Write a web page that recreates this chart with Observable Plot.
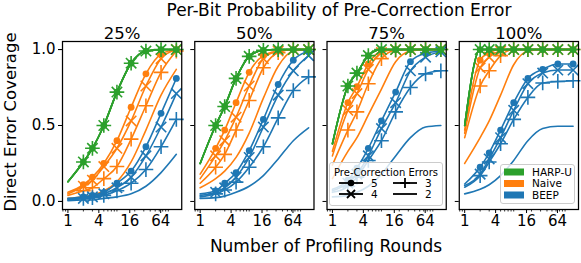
<!DOCTYPE html>
<html><head><meta charset="utf-8">
<script src="https://cdn.jsdelivr.net/npm/d3@7"></script>
<script src="https://cdn.jsdelivr.net/npm/@observablehq/plot@0.6"></script>
<style>
body{margin:0;background:#fff;}
#wrap{position:relative;width:581px;height:263px;font-family:"DejaVu Sans",sans-serif;color:#000;overflow:hidden;}
#wrap > svg{position:absolute;left:0;top:0;}
.lbl{position:absolute;white-space:nowrap;transform:translate(-50%,-50%);line-height:1;}
.leg{position:absolute;}
</style></head><body><div id="wrap"></div>
<script>
// ---- data ----
const rounds = [1, 2, 3, 5, 9, 17, 33, 65, 129];
const panels = ["25%", "50%", "75%", "100%"];
const mechanisms = ["HARP-U", "Naive", "BEEP"];
const errorCounts = [5, 4, 3, 2];
const colors = ["#2ca02c", "#ff7f0e", "#1f77b4"];
const xTicks = [1, 4, 16, 64];
const xMinorTicks = [0.8, 0.9, 2, 3, 5, 6, 7, 8, 9, 20, 30, 40, 50, 60, 70, 80, 90];
const yTicks = [0, 0.5, 1];

// HARP-U (identical for every error count)
const harp25  = [0.13, 0.26, 0.35, 0.50, 0.72, 0.91, 0.99, 1.0, 1.0];
const harp50  = [0.25, 0.50, 0.625, 0.81, 0.955, 0.995, 1.0, 1.0, 1.0];
const harp75  = [0.38, 0.76, 0.845, 0.96, 1.0, 1.0, 1.0, 1.0, 1.0];
const harp100 = [0.50, 1.0, 1.0, 1.0, 1.0, 1.0, 1.0, 1.0, 1.0];

// Naive: rows = 5, 4, 3, 2 pre-correction errors
const naive25 = [
  [0.06, 0.11, 0.16, 0.25, 0.40, 0.62, 0.84, 0.97, 1.0],
  [0.05, 0.10, 0.14, 0.23, 0.35, 0.53, 0.76, 0.94, 1.0],
  [0.04, 0.07, 0.09, 0.15, 0.23, 0.41, 0.63, 0.85, 0.99],
  [0.02, 0.03, 0.04, 0.07, 0.13, 0.26, 0.47, 0.70, 0.87]
];
const naive50 = [
  [0.18, 0.35, 0.47, 0.65, 0.85, 0.96, 0.99, 1.0, 1.0],
  [0.15, 0.30, 0.40, 0.555, 0.76, 0.94, 0.99, 1.0, 1.0],
  [0.12, 0.225, 0.31, 0.47, 0.665, 0.88, 0.98, 1.0, 1.0],
  [0.09, 0.15, 0.20, 0.29, 0.45, 0.68, 0.89, 0.99, 1.0]
];
const naive75 = [
  [0.33, 0.65, 0.755, 0.905, 0.99, 1.0, 1.0, 1.0, 1.0],
  [0.30, 0.60, 0.71, 0.87, 0.98, 1.0, 1.0, 1.0, 1.0],
  [0.24, 0.47, 0.59, 0.775, 0.94, 0.995, 1.0, 1.0, 1.0],
  [0.15, 0.33, 0.42, 0.57, 0.74, 0.92, 0.99, 1.0, 1.0]
];
const naive100 = [
  [0.47, 0.93, 0.98, 1.0, 1.0, 1.0, 1.0, 1.0, 1.0],
  [0.45, 0.88, 0.95, 0.99, 1.0, 1.0, 1.0, 1.0, 1.0],
  [0.42, 0.76, 0.86, 0.96, 1.0, 1.0, 1.0, 1.0, 1.0],
  [0.25, 0.42, 0.53, 0.70, 0.90, 0.99, 1.0, 1.0, 1.0]
];

// BEEP: rows = 5, 4, 3, 2 pre-correction errors
const beep25 = [
  [0.02, 0.03, 0.04, 0.06, 0.12, 0.20, 0.36, 0.58, 0.81],
  [0.015, 0.02, 0.03, 0.05, 0.09, 0.16, 0.30, 0.49, 0.71],
  [0.01, 0.02, 0.025, 0.04, 0.07, 0.12, 0.21, 0.36, 0.54],
  [0.005, 0.01, 0.01, 0.02, 0.03, 0.05, 0.10, 0.19, 0.31]
];
const beep50 = [
  [0.05, 0.07, 0.12, 0.19, 0.335, 0.54, 0.77, 0.93, 0.99],
  [0.04, 0.06, 0.09, 0.16, 0.29, 0.49, 0.70, 0.86, 0.96],
  [0.03, 0.05, 0.075, 0.127, 0.225, 0.36, 0.55, 0.73, 0.82],
  [0.02, 0.025, 0.035, 0.06, 0.10, 0.17, 0.28, 0.40, 0.485]
];
const beep75 = [
  [0.08, 0.14, 0.22, 0.35, 0.53, 0.72, 0.92, 0.975, 0.99],
  [0.07, 0.12, 0.18, 0.30, 0.48, 0.65, 0.86, 0.95, 0.985],
  [0.06, 0.10, 0.16, 0.27, 0.40, 0.59, 0.75, 0.84, 0.86],
  [0.03, 0.04, 0.06, 0.10, 0.18, 0.30, 0.42, 0.49, 0.50]
];
const beep100 = [
  [0.115, 0.225, 0.32, 0.47, 0.65, 0.81, 0.87, 0.905, 0.905],
  [0.105, 0.18, 0.28, 0.42, 0.60, 0.775, 0.845, 0.865, 0.865],
  [0.094, 0.17, 0.26, 0.38, 0.54, 0.685, 0.78, 0.79, 0.795],
  [0.05, 0.08, 0.11, 0.17, 0.27, 0.40, 0.48, 0.495, 0.495]
];

// ---- build table ----
const panelData = [
  [panels[0], harp25, naive25, beep25],
  [panels[1], harp50, naive50, beep50],
  [panels[2], harp75, naive75, beep75],
  [panels[3], harp100, naive100, beep100]
];
const rows = [];
for (const [p, h, nv, bp] of panelData) {
  errorCounts.forEach((n, i) => {
    const sets = [["HARP-U", h], ["Naive", nv[i]], ["BEEP", bp[i]]];
    for (const [mech, vals] of sets) {
      rounds.forEach((x, j) => rows.push({p, mech, n, x, y: vals[j], key: mech + n, mark: j > 0}));
    }
  });
}
const tickRows = panels.flatMap(p => xTicks.map(x => ({p, x})));

const order = ["Naive", "BEEP", "HARP-U"];
const seriesMarks = [];
for (const m of order) {
  const d = rows.filter(r => r.mech === m);
  const dm = d.filter(r => r.mark);
  seriesMarks.push(
    Plot.line(d, {x: "x", y: "y", z: "key", stroke: "mech", fx: "p", curve: "monotone-x", strokeWidth: 1.6}),
    Plot.dot(dm.filter(r => r.n === 5), {x: "x", y: "y", fx: "p", fill: "mech", symbol: "circle", r: 3.4}),
    Plot.dot(dm.filter(r => r.n === 4), {x: "x", y: "y", fx: "p", stroke: "mech", symbol: "times", r: 4.8, strokeWidth: 1.6}),
    Plot.dot(dm.filter(r => r.n === 3), {x: "x", y: "y", fx: "p", stroke: "mech", symbol: "plus", r: 4.8, strokeWidth: 1.6})
  );
}

const chart = Plot.plot({
  width: 581, height: 263,
  marginLeft: 62, marginRight: 3, marginTop: 41, marginBottom: 54,
  style: {fontFamily: "DejaVu Sans", background: "white", color: "black", overflow: "visible"},
  fx: {domain: panels, paddingInner: 0.0985, paddingOuter: 0, round: false, label: null},
  x: {type: "log", domain: [Math.pow(2, -0.35), Math.pow(2, 7.36)], label: null},
  y: {domain: [-0.053, 1.053], label: null},
  color: {domain: mechanisms, range: colors},
  marks: [
    Plot.axisFx({anchor: "top", tickSize: 0, tickPadding: 3, fontSize: 16.5, label: null}),
    Plot.axisX({ticks: xMinorTicks, tickSize: 2.5, tickFormat: () => "", label: null, strokeWidth: 0.8}),
    Plot.axisX({ticks: xTicks, tickSize: 4, tickFormat: () => "", label: null, strokeWidth: 1}),
    Plot.text(tickRows, {x: "x", fx: "p", text: d => String(d.x), frameAnchor: "bottom", lineAnchor: "top", dy: 6, fontSize: 15}),
    Plot.axisY({ticks: yTicks, tickSize: 4, tickPadding: 3, tickFormat: d3.format(".1f"), fontSize: 15, label: null, strokeWidth: 1}),
    Plot.axisY({ticks: yTicks, tickSize: 4, tickFormat: () => "", label: null, facetAnchor: null, strokeWidth: 1}),
    ...seriesMarks,
    Plot.frame({stroke: "black", strokeWidth: 1.25})
  ]
});

const wrap = document.getElementById("wrap");
wrap.appendChild(chart);

function addLabel(text, x, y, size, rotate) {
  const el = document.createElement("div");
  el.className = "lbl";
  el.textContent = text;
  el.style.left = x + "px";
  el.style.top = y + "px";
  el.style.fontSize = size + "px";
  if (rotate) el.style.transform = "translate(-50%,-50%) rotate(-90deg)";
  wrap.appendChild(el);
}
addLabel("Per-Bit Probability of Pre-Correction Error", 339, 10, 17);
addLabel("Number of Profiling Rounds", 326, 246, 17);
addLabel("Direct Error Coverage", 10.5, 122, 16.5, true);

// ---- legends ----
const NS = "http://www.w3.org/2000/svg";
function svgEl(tag, attrs, parent) {
  const e = document.createElementNS(NS, tag);
  for (const k in attrs) e.setAttribute(k, attrs[k]);
  if (parent) parent.appendChild(e);
  return e;
}
function legendBox(left, top, w, h) {
  const s = svgEl("svg", {width: w, height: h, class: "leg"});
  s.style.left = left + "px"; s.style.top = top + "px";
  s.style.fontFamily = "DejaVu Sans";
  svgEl("rect", {x: 0.5, y: 0.5, width: w - 1, height: h - 1, rx: 2.5, fill: "white", "fill-opacity": 0.8, stroke: "#cccccc", "stroke-width": 1}, s);
  wrap.appendChild(s);
  return s;
}
// marker legend
const legendLabels = ["5", "3", "4", "2"];
const legendSymbols = ["circle", "plus", "times", "none"];
{
  const s = legendBox(329, 162, 114, 44);
  const t = svgEl("text", {x: 57, y: 13.5, "text-anchor": "middle", "font-size": 10}, s);
  t.textContent = "Pre-Correction Errors";
  const pos = [[10, 21], [64, 21], [10, 32], [64, 32]];
  legendLabels.forEach((lab, i) => {
    const [x0, y0] = pos[i];
    svgEl("line", {x1: x0, x2: x0 + 24, y1: y0, y2: y0, stroke: "black", "stroke-width": 1.8}, s);
    const cx = x0 + 12;
    if (legendSymbols[i] === "circle") svgEl("circle", {cx, cy: y0, r: 3.3, fill: "black"}, s);
    if (legendSymbols[i] === "plus") svgEl("path", {d: `M${cx - 5},${y0}H${cx + 5}M${cx},${y0 - 5}V${y0 + 5}`, stroke: "black", "stroke-width": 1.8}, s);
    if (legendSymbols[i] === "times") svgEl("path", {d: `M${cx - 4},${y0 - 4}L${cx + 4},${y0 + 4}M${cx - 4},${y0 + 4}L${cx + 4},${y0 - 4}`, stroke: "black", "stroke-width": 1.8}, s);
    const tx = svgEl("text", {x: x0 + 32, y: y0 + 3.6, "font-size": 10.5}, s);
    tx.textContent = lab;
  });
}
// mechanism legend
{
  const s = legendBox(500, 164, 75, 40);
  mechanisms.forEach((m, i) => {
    const y0 = 8 + i * 11.5;
    svgEl("rect", {x: 4, y: y0 - 3.5, width: 20, height: 7, fill: colors[i]}, s);
    const tx = svgEl("text", {x: 32, y: y0 + 3.6, "font-size": 10.5}, s);
    tx.textContent = m;
  });
}
</script></body></html>
